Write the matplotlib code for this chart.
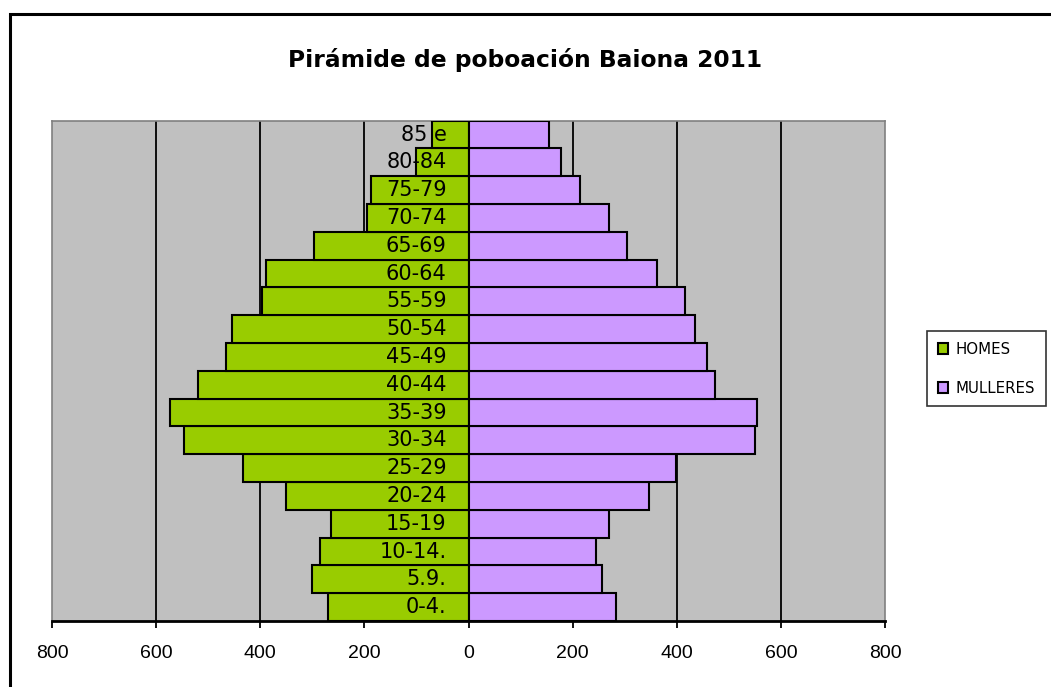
import numpy as np
import matplotlib.pyplot as plt
from matplotlib.patches import Rectangle
from matplotlib.ticker import FuncFormatter

# age groups bottom -> top
grupos = ['0-4.', '5.9.', '10-14.', '15-19', '20-24', '25-29', '30-34', '35-39', '40-44',
          '45-49', '50-54', '55-59', '60-64', '65-69', '70-74', '75-79', '80-84', '85 e']
homes = [269, 300, 285, 265, 351, 434, 546, 574, 519, 465, 454, 396, 388, 296, 195, 188, 100, 70]
mulleres = [284, 257, 245, 269, 346, 398, 550, 554, 473, 458, 435, 415, 362, 304, 269, 215, 177, 154]
xticks = [-800, -600, -400, -200, 0, 200, 400, 600, 800]

verde = '#99CC00'
lila = '#CC99FF'

fig = plt.figure(figsize=(10.51, 6.87), dpi=100)
ax = fig.add_axes([52/1051, 1-621/687, (885-52)/1051, (621-120.7)/687])
ax.set_facecolor('#C0C0C0')

y = np.arange(len(grupos))
ax.barh(y, -np.array(homes), height=1.0, color=verde, edgecolor='black', linewidth=1.5,
        label='HOMES', zorder=3)
ax.barh(y, mulleres, height=1.0, color=lila, edgecolor='black', linewidth=1.5,
        label='MULLERES', zorder=3)

for xv in xticks[1:-1]:
    ax.axvline(xv, color='black', lw=1.3, zorder=1)

for yi, g in zip(y, grupos):
    ax.text(-42, yi, g, ha='right', va='center', fontsize=15, color='black', zorder=4)

ax.set_xlim(-800, 800)
ax.set_ylim(-0.5, len(grupos) - 0.5)
ax.set_yticks([])
ax.set_xticks(xticks)
ax.xaxis.set_major_formatter(FuncFormatter(lambda v, p: f'{abs(int(v))}'))
ax.tick_params(axis='x', direction='out', length=5, width=1.3, pad=12, labelsize=14)
for lbl in ax.get_xticklabels():
    lbl.set_family('Liberation Sans')
for s in ['top', 'left', 'right']:
    ax.spines[s].set_color('#808080')
    ax.spines[s].set_linewidth(1.2)
ax.spines['bottom'].set_color('black')
ax.spines['bottom'].set_linewidth(2)

fig.text(525/1051, 1-60/687, 'Pirámide de poboación Baiona 2011', ha='center', va='center',
         fontsize=16.8, fontweight='bold')

leg = fig.legend(loc='upper left', bbox_to_anchor=(927/1051, 1-331/687), frameon=True,
                 fancybox=False, handlelength=0.7, handleheight=0.7, handletextpad=0.5,
                 fontsize=10.8, borderpad=0.7, labelspacing=1.6, borderaxespad=0)
leg.get_frame().set_edgecolor('black')
leg.get_frame().set_linewidth(1.2)

# chart border
fig.patches.append(Rectangle((10/1051, -0.1), 1.1, (687-14)/687 + 0.1, transform=fig.transFigure,
                             fill=False, edgecolor='black', linewidth=2.2))

fig.savefig('out.png', dpi=100)
